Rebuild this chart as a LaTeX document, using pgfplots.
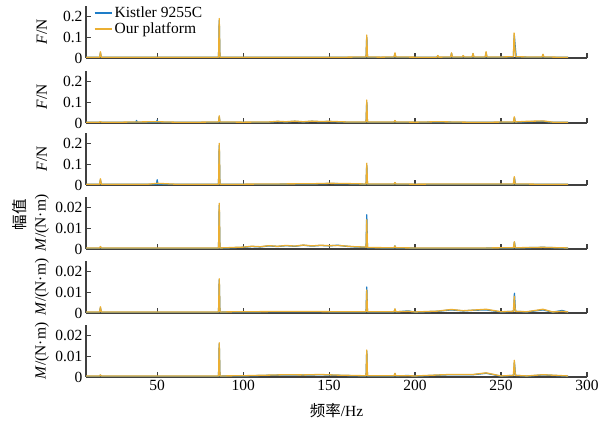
\documentclass[border=0pt]{standalone}
\usepackage{fontspec}
\setmainfont{Liberation Serif}
\newfontfamily\cjk{Noto Sans CJK SC}
\usepackage{pgfplots}
\pgfplotsset{compat=1.18}

\definecolor{kblue}{RGB}{30,125,200}
\definecolor{porange}{RGB}{235,175,50}

\pgfplotsset{
  panel/.style={
    width=501pt, height=52pt, scale only axis,
    xmin=8.6, xmax=300, ymin=0,
    axis x line*=bottom, axis y line*=left,
    axis line style={-, line width=1.2pt, color=black!75},
    tick align=inside, major tick length=4.5pt,
    tick style={line width=1.2pt, color=black!75},
    xtick={50,100,150,200,250,300}, xticklabels={},
    scaled y ticks=false,
    /pgf/number format/assume math mode=true,
    ylabel style={at={(axis description cs:-0.088,0.5)}, anchor=center, rotate=0},
    every axis plot/.append style={line width=1.3pt, line join=round},
  },
  fpanel/.style={panel, ymax=0.25, ytick={0,0.1,0.2}, yticklabels={0,0.1,0.2},
    ylabel={\textit{F}/N}},
  mpanel/.style={panel, ymax=0.025, ytick={0,0.01,0.02}, yticklabels={0,0.01,0.02},
    ylabel={\textit{M}/(N·m)}},
}

\begin{document}
\begin{tikzpicture}[font=\fontsize{15.5}{17}\selectfont]
\useasboundingbox (0,0) rectangle (608pt,423pt);

% panel 1: F
\begin{axis}[fpanel, at={(86pt,365pt)}, anchor=south west,
  legend style={at={(axis description cs:0.013,1.04)}, anchor=north west, draw=none, fill=none,
    inner sep=1pt, row sep=-1pt, cells={anchor=west}, font=\fontsize{15.5}{17}\selectfont},
  legend image code/.code={\draw[#1, line width=2pt] (0pt,0pt) -- (17pt,0pt);}]
\addplot[kblue] coordinates {
(8.6,0.003)(12,0.003)(16.5,0.003)(17,0.025)(17.5,0.003)(25,0.003)(35,0.003)(45,0.003)(55,0.003)
(65,0.003)(75,0.003)(85.7,0.003)(86.1,0.18)(86.5,0.003)(100,0.003)
(110,0.003)(120,0.003)(130,0.003)(140,0.003)(150,0.003)(160,0.003)(171.5,0.004)
(171.9,0.1)(172.3,0.004)(180,0.003)(187.8,0.004)(188.3,0.02)(188.8,0.004)(200,0.003)
(212.7,0.003)(213.2,0.01)(213.7,0.003)(220.7,0.004)(221.2,0.022)(221.7,0.004)(227.5,0.004)
(228,0.01)(228.5,0.004)(233.2,0.004)(233.7,0.02)(234.2,0.004)(240.8,0.004)(241.3,0.025)
(241.8,0.004)(250,0.004)(257.2,0.006)(257.7,0.11)(258.3,0.05)(258.8,0.005)(265,0.004)
(273.9,0.004)(274.4,0.015)(274.9,0.004)(282,0.003)(289,0.003)
};
\addlegendentry{Kistler 9255C}
\addplot[porange] coordinates {
(8.6,0.003)(12,0.003)(16.5,0.004)(17,0.03)(17.5,0.004)(25,0.003)(35,0.004)(45,0.003)(55,0.003)
(65,0.004)(75,0.003)(85.7,0.004)(86.1,0.19)(86.5,0.004)(100,0.004)
(110,0.003)(120,0.004)(130,0.003)(140,0.004)(150,0.003)(160,0.004)(171.5,0.005)
(171.9,0.11)(172.3,0.005)(180,0.004)(187.8,0.005)(188.3,0.025)(188.8,0.005)(200,0.004)
(212.7,0.004)(213.2,0.012)(213.7,0.004)(220.7,0.005)(221.2,0.025)(221.7,0.005)(227.5,0.005)
(228,0.012)(228.5,0.005)(233.2,0.005)(233.7,0.022)(234.2,0.005)(240.8,0.005)(241.3,0.03)
(241.8,0.005)(250,0.005)(257.2,0.006)(257.6,0.12)(258.1,0.04)(258.6,0.006)(265,0.005)
(273.9,0.005)(274.4,0.018)(274.9,0.005)(282,0.004)(289,0.004)
};
\addlegendentry{Our platform}
\end{axis}

% panel 2: F
\begin{axis}[fpanel, at={(86pt,300pt)}, anchor=south west]
\addplot[kblue] coordinates {
(8.6,0.003)(16.5,0.003)(17,0.006)(17.5,0.003)(30,0.003)(37.6,0.003)(38,0.012)(38.4,0.003)
(49.6,0.003)(50,0.014)(50.4,0.003)(60,0.003)(75,0.003)(85.7,0.003)(86.1,0.03)(86.5,0.003)
(100,0.003)(115,0.004)(120,0.007)(125,0.005)(130,0.008)(135,0.005)(140,0.008)(145,0.006)
(150,0.007)(160,0.004)(171.5,0.004)(171.9,0.1)(172.3,0.004)(187.8,0.004)
(188.3,0.01)(188.8,0.004)(200,0.003)(213,0.005)(230,0.003)(245,0.003)(257.3,0.004)
(257.8,0.025)(258.3,0.004)(265,0.006)(274.4,0.008)(280,0.003)(289,0.003)
};
\addplot[porange] coordinates {
(8.6,0.004)(16.5,0.004)(17,0.007)(17.5,0.004)(30,0.004)(38,0.005)(50,0.006)(60,0.004)
(75,0.004)(85.7,0.005)(86.1,0.035)(86.5,0.005)(100,0.004)(115,0.005)(120,0.008)(125,0.006)
(130,0.009)(135,0.006)(140,0.009)(145,0.007)(150,0.008)(160,0.005)(171.5,0.005)(171.9,0.11)
(172.3,0.005)(187.8,0.005)(188.3,0.012)(188.8,0.005)(200,0.004)(213,0.006)
(230,0.004)(245,0.004)(257.2,0.005)(257.7,0.03)(258.2,0.005)(265,0.008)(274.4,0.01)
(280,0.004)(289,0.004)
};
\end{axis}

% panel 3: F
\begin{axis}[fpanel, at={(86pt,238pt)}, anchor=south west]
\addplot[kblue] coordinates {
(8.6,0.003)(16.5,0.003)(17,0.025)(17.5,0.003)(30,0.003)(45,0.003)(49.6,0.003)(50,0.025)
(50.4,0.003)(60,0.003)(75,0.003)(85.7,0.003)(86.1,0.19)(86.5,0.003)(100,0.003)
(120,0.004)(140,0.005)(150,0.007)(160,0.006)(170,0.004)(171.5,0.004)(171.9,0.095)
(172.3,0.004)(187.8,0.004)(188.3,0.01)(188.8,0.004)(200,0.003)(220,0.004)
(240,0.004)(257.3,0.004)(257.8,0.035)(258.3,0.004)(270,0.003)(289,0.003)
};
\addplot[porange] coordinates {
(8.6,0.004)(16.5,0.004)(17,0.03)(17.5,0.004)(30,0.004)(45,0.004)(50,0.008)(60,0.004)
(75,0.004)(85.7,0.004)(86.1,0.2)(86.5,0.004)(100,0.004)(120,0.005)(140,0.006)
(150,0.008)(160,0.007)(170,0.005)(171.5,0.005)(171.9,0.105)(172.3,0.005)
(187.8,0.005)(188.3,0.012)(188.8,0.005)(200,0.004)(220,0.005)(240,0.005)(257.2,0.005)
(257.7,0.04)(258.2,0.005)(270,0.004)(289,0.004)
};
\end{axis}

% panel 4: M
\begin{axis}[mpanel, at={(86pt,174pt)}, anchor=south west]
\addplot[kblue] coordinates {
(8.6,0.0004)(16.5,0.0004)(17,0.001)(17.5,0.0004)(30,0.0004)(50,0.0004)(70,0.0004)(85.7,0.0004)
(86.1,0.021)(86.5,0.0004)(100,0.0008)(105,0.0012)(110,0.001)(115,0.0015)
(120,0.0012)(125,0.0016)(130,0.0013)(135,0.0018)(140,0.0014)(145,0.0017)(150,0.0015)
(155,0.0018)(160,0.0013)(165,0.001)(171.5,0.0008)(171.9,0.0165)(172.3,0.0006)
(187.8,0.0005)(188.3,0.0015)(188.8,0.0005)(200,0.0004)(220,0.0004)(240,0.0004)
(257.3,0.0005)(257.8,0.0033)(258.3,0.0005)(274.4,0.0008)(289,0.0004)
};
\addplot[porange] coordinates {
(8.6,0.0005)(16.5,0.0005)(17,0.0012)(17.5,0.0005)(30,0.0005)(50,0.0005)(70,0.0005)(85.7,0.0005)
(86.1,0.022)(86.5,0.0005)(100,0.0009)(105,0.0013)(110,0.0011)(115,0.0016)
(120,0.0013)(125,0.0017)(130,0.0014)(135,0.0019)(140,0.0015)(145,0.0018)(150,0.0016)
(155,0.0017)(160,0.0014)(165,0.0011)(171.5,0.0009)(171.9,0.014)(172.3,0.0007)
(187.8,0.0006)(188.3,0.0015)(188.8,0.0006)(200,0.0005)(220,0.0005)(240,0.0005)
(257.2,0.0006)(257.7,0.0035)(258.2,0.0006)(274.4,0.0008)(289,0.0005)
};
\end{axis}

% panel 5: M
\begin{axis}[mpanel, at={(86pt,110pt)}, anchor=south west]
\addplot[kblue] coordinates {
(8.6,0.0004)(16.5,0.0004)(17,0.0025)(17.5,0.0004)(30,0.0004)(50,0.0004)(70,0.0004)(85.7,0.0004)
(86.1,0.016)(86.5,0.0004)(100,0.0005)(120,0.0006)(140,0.0006)(160,0.0005)
(171.5,0.0005)(171.9,0.0125)(172.3,0.0005)(187.8,0.0005)(188.3,0.0018)
(188.8,0.0005)(196,0.001)(200,0.0004)(213,0.0008)(221,0.0015)(228,0.001)(233.7,0.0013)
(241.3,0.0015)(250,0.0005)(257.3,0.0008)(257.8,0.0095)(258.4,0.0008)(265,0.0005)
(274.4,0.0015)(280,0.0004)(285.5,0.0012)(289,0.0004)
};
\addplot[porange] coordinates {
(8.6,0.0005)(16.5,0.0005)(17,0.003)(17.5,0.0005)(30,0.0005)(50,0.0005)(70,0.0005)(85.7,0.0005)
(86.1,0.0165)(86.5,0.0005)(100,0.0006)(120,0.0007)(140,0.0007)(160,0.0006)
(171.5,0.0006)(171.9,0.011)(172.3,0.0006)(187.8,0.0006)(188.3,0.002)
(188.8,0.0006)(196,0.0008)(200,0.0005)(213,0.0009)(221,0.0017)(228,0.0011)(233.7,0.0014)
(241.3,0.0018)(250,0.0006)(257.2,0.0008)(257.7,0.008)(258.3,0.0008)(265,0.0006)
(274.4,0.0018)(280,0.0005)(285.5,0.0008)(289,0.0005)
};
\end{axis}

% panel 6: M
\begin{axis}[mpanel, at={(86pt,46pt)}, anchor=south west,
  xticklabels={50,100,150,200,250,300},
  xlabel={{\cjk 频率}/Hz},
  xlabel style={at={(axis description cs:0.5,-0.64)}, anchor=center}]
\addplot[kblue] coordinates {
(8.6,0.0004)(16.5,0.0004)(17,0.0009)(17.5,0.0004)(30,0.0004)(50,0.0004)(70,0.0004)(85.7,0.0004)
(86.1,0.016)(86.5,0.0004)(100,0.0005)(115,0.0008)(125,0.001)(135,0.0009)
(145,0.0011)(155,0.0008)(165,0.0006)(171.5,0.0005)(171.9,0.0125)(172.3,0.0005)
(187.8,0.0005)(188.3,0.0016)(188.8,0.0005)(196,0.0007)(200,0.0004)(220,0.0011)(233.7,0.0011)
(241.3,0.0018)(250,0.0004)(257.3,0.0008)(257.8,0.007)(258.4,0.0008)(265,0.0004)(274.4,0.001)
(289,0.0004)
};
\addplot[porange] coordinates {
(8.6,0.0005)(16.5,0.0005)(17,0.001)(17.5,0.0005)(30,0.0005)(50,0.0005)(70,0.0005)(85.7,0.0005)
(86.1,0.0165)(86.5,0.0005)(100,0.0006)(115,0.0009)(125,0.0011)(135,0.001)
(145,0.0012)(155,0.0009)(165,0.0007)(171.5,0.0006)(171.9,0.013)(172.3,0.0006)
(187.8,0.0006)(188.3,0.0018)(188.8,0.0006)(196,0.0006)(200,0.0005)(220,0.0012)(233.7,0.0012)
(241.3,0.002)(250,0.0005)(257.2,0.0008)(257.7,0.008)(258.3,0.0008)(265,0.0005)(274.4,0.0011)
(289,0.0005)
};
\end{axis}

\node[rotate=90, font=\fontsize{15.5}{17}\cjk] at (20pt,208pt) {幅值};
\end{tikzpicture}
\end{document}
